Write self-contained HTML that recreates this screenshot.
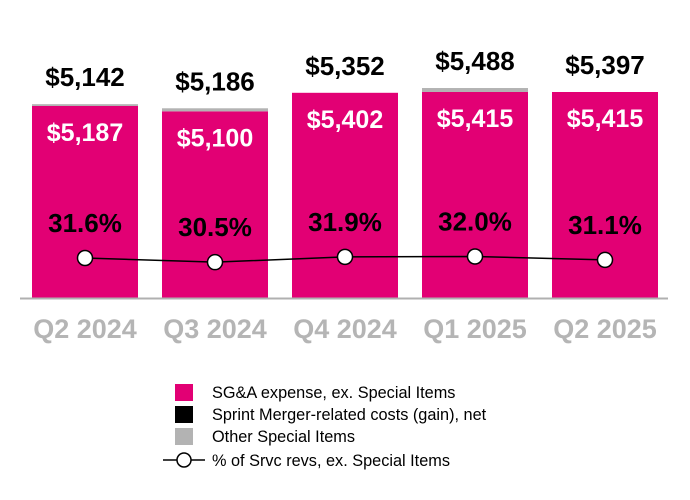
<!DOCTYPE html>
<html><head><meta charset="utf-8"><style>
html,body{margin:0;padding:0;background:#fff;}
svg{display:block;font-family:"Liberation Sans",Arial,sans-serif;}
</style></head><body>
<svg id="chart" width="690" height="500" viewBox="0 0 690 500">
<g id="plot"></g>
<line x1="20" y1="298.5" x2="668" y2="298.5" stroke="#b0b0b0" stroke-width="2"/>
<g id="legend">
  <rect x="175" y="384" width="18" height="17" fill="#e20074"/>
  <text x="212" y="398" font-size="16.3" fill="#000">SG&amp;A expense, ex. Special Items</text>
  <rect x="175" y="406" width="18" height="17" fill="#000"/>
  <text x="212" y="420" font-size="16.3" fill="#000">Sprint Merger-related costs (gain), net</text>
  <rect x="175" y="428" width="18" height="17" fill="#b3b3b3"/>
  <text x="212" y="442" font-size="16.3" fill="#000">Other Special Items</text>
  <line x1="163" y1="460" x2="205" y2="460" stroke="#000" stroke-width="1.5"/>
  <circle cx="184" cy="460" r="7" fill="#fff" stroke="#000" stroke-width="1.5"/>
  <text x="212" y="466" font-size="16.3" fill="#000">% of Srvc revs, ex. Special Items</text>
</g>
</svg>
<script>
const categories = ["Q2 2024","Q3 2024","Q4 2024","Q1 2025","Q2 2025"];
const sgaValues = [5187,5100,5402,5415,5415];
const otherValues = [30,50,0,65,0];
const totalLabels = ["$5,142","$5,186","$5,352","$5,488","$5,397"];
const pctValues = [31.6,30.5,31.9,32.0,31.1];

const NS = "http://www.w3.org/2000/svg";
const plot = document.getElementById('plot');
const baseY = 298, vMin = 2060, scale = 0.0614;
const yVal = v => baseY - (v - vMin) * scale;
const yPct = p => 258 - (p - 31.6) * 3.8;
const xCenter = i => 85 + i * 130;
const barW = 106;
function mk(tag, attrs){const e=document.createElementNS(NS,tag);for(const k in attrs)e.setAttribute(k,attrs[k]);plot.appendChild(e);return e;}
function fmt(v){return "$"+v.toLocaleString("en-US");}

categories.forEach((c,i)=>{
  const cx=xCenter(i);
  const topS=yVal(sgaValues[i]);
  const b=mk('rect',{x:cx-barW/2,y:topS,width:barW,height:baseY-topS,fill:'#e20074'});
  
  
  const topT=yVal(sgaValues[i]+otherValues[i]);
  if(otherValues[i]>0){
    const g=mk('rect',{x:cx-barW/2,y:topT,width:barW,height:topS-topT,fill:'#b3b3b3'});
    
    
  }
  const il=mk('text',{x:cx,y:topS+35,'text-anchor':'middle','font-size':'25','font-weight':'bold',fill:'#fff'});
  il.textContent=fmt(sgaValues[i]);
  
  
  const tl=mk('text',{x:cx,y:topT-18,'text-anchor':'middle','font-size':'26','font-weight':'bold',fill:'#000'});
  tl.textContent=totalLabels[i];
  
  
  const xl=mk('text',{x:cx,y:338,'text-anchor':'middle','font-size':'27','font-weight':'bold',fill:'#b5b5b5'});
  xl.textContent=c;
  
  
});
const pts=pctValues.map((p,i)=>xCenter(i)+','+yPct(p)).join(' ');
const pl=mk('polyline',{points:pts,fill:'none',stroke:'#000','stroke-width':'1.5'});


pctValues.forEach((p,i)=>{
  const cx=xCenter(i), cy=yPct(p);
  const c=mk('circle',{cx:cx,cy:cy,r:7.5,fill:'#fff',stroke:'#000','stroke-width':'1.5'});
  
  
  const t=mk('text',{x:cx,y:cy-26,'text-anchor':'middle','font-size':'26','font-weight':'bold',fill:'#000'});
  t.textContent=p.toFixed(1)+'%';
  
  
});
</script>
</body></html>
